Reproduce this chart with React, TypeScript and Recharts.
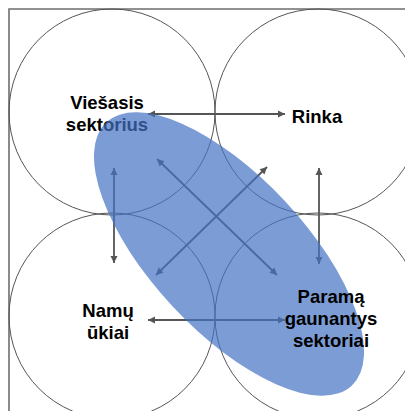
import { ScatterChart, Scatter, XAxis, YAxis } from 'recharts'

// diagram space is 1:1 with the 413x419 picture
const W = 413
const H = 419

const frame = [
  { x: 9, y: 419 },
  { x: 9, y: 9 },
  { x: 413, y: 9 },
]

const circles = [
  { x: 112, y: 112, r: 103 },
  { x: 318, y: 112, r: 103 },
  { x: 112, y: 316, r: 103 },
  { x: 318, y: 316, r: 103 },
]

// double-headed arrows, [from, to]
const arrows = [
  [{ x: 148, y: 114 }, { x: 285, y: 114 }],
  [{ x: 148, y: 320 }, { x: 285, y: 320 }],
  [{ x: 114, y: 168 }, { x: 114, y: 263 }],
  [{ x: 319, y: 168 }, { x: 319, y: 264 }],
  [{ x: 157, y: 159 }, { x: 277, y: 275 }],
  [{ x: 267, y: 167 }, { x: 156, y: 275 }],
]

const ellipse = [{ x: 229, y: 254, rx: 180, ry: 77, angle: 47 }]

// labels below the ellipse (tinted by it) and above it
const labelsUnder = [{ x: 107, y: 109, lines: ['Viešasis', 'sektorius'] }]
const labelsOver = [
  { x: 317, y: 123, lines: ['Rinka'] },
  { x: 108, y: 317, lines: ['Namų', 'ūkiai'] },
  { x: 331, y: 303, lines: ['Paramą', 'gaunantys', 'sektoriai'] },
]

const arrowData = arrows.map(([a, b]) => [
  { ...a, dx: a.x - b.x, dy: a.y - b.y },
  { ...b, dx: b.x - a.x, dy: b.y - a.y },
])

const Nothing = () => <g />

const CircleShape = (props: any) => (
  <circle cx={props.cx} cy={props.cy} r={props.payload.r} fill="none" stroke="#555" strokeWidth={1} />
)

const ArrowHead = (props: any) => {
  const { cx, cy, payload } = props
  const len = Math.hypot(payload.dx, payload.dy)
  const ux = payload.dx / len
  const uy = payload.dy / len
  const L = 7
  const hw = 3.5
  const bx = cx - ux * L
  const by = cy - uy * L
  const pts = `${cx},${cy} ${bx - uy * hw},${by + ux * hw} ${bx + uy * hw},${by - ux * hw}`
  return <polygon points={pts} fill="#555" />
}

const EllipseShape = (props: any) => {
  const { cx, cy, payload } = props
  return (
    <ellipse
      cx={cx}
      cy={cy}
      rx={payload.rx}
      ry={payload.ry}
      transform={`rotate(${payload.angle} ${cx} ${cy})`}
      fill="#4472C4"
      fillOpacity={0.7}
    />
  )
}

const LabelShape = (props: any) => {
  const { cx, cy, payload } = props
  return (
    <text
      x={cx}
      y={cy}
      textAnchor="middle"
      fontFamily="'Liberation Sans', Arial, sans-serif"
      fontWeight="bold"
      fontSize={18.5}
      fill="#000"
    >
      {payload.lines.map((l: string, i: number) => (
        <tspan key={i} x={cx} dy={i === 0 ? 0 : 22}>
          {l}
        </tspan>
      ))}
    </text>
  )
}

export default function App() {
  return (
    <div style={{ margin: -8, width: W, height: H, background: '#fff' }}>
      <ScatterChart width={W} height={H} margin={{ top: 0, right: 0, bottom: 0, left: 0 }}>
        <XAxis type="number" dataKey="x" domain={[0, W]} hide allowDataOverflow />
        <YAxis type="number" dataKey="y" domain={[0, H]} reversed hide allowDataOverflow />
        <Scatter
          data={frame}
          line={{ stroke: '#6e6e6e', strokeWidth: 1.6 }}
          lineType="joint"
          shape={Nothing}
          isAnimationActive={false}
        />
        <Scatter data={circles} shape={CircleShape} isAnimationActive={false} />
        {arrowData.map((d, i) => (
          <Scatter
            key={i}
            data={d}
            line={{ stroke: '#555', strokeWidth: 1.8 }}
            lineType="joint"
            shape={ArrowHead}
            isAnimationActive={false}
          />
        ))}
        <Scatter data={labelsUnder} shape={LabelShape} isAnimationActive={false} />
        <Scatter data={ellipse} shape={EllipseShape} isAnimationActive={false} />
        <Scatter data={labelsOver} shape={LabelShape} isAnimationActive={false} />
      </ScatterChart>
    </div>
  )
}
